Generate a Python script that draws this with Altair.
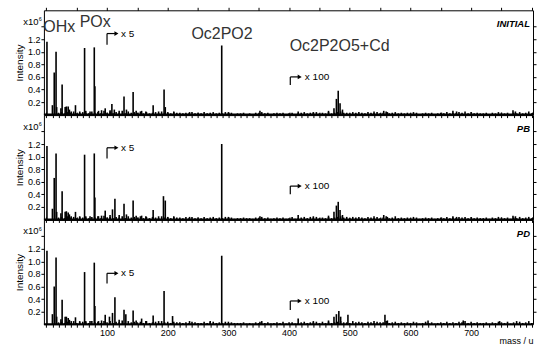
import altair as alt
import pandas as pd

FONT = "Liberation Sans"

# ---------------- data ----------------
panel_names = ["INITIAL", "PB", "PD"]

init_mass = [1, 10, 13, 16, 17, 24, 26, 31, 33, 36, 38, 41, 48, 55, 63, 65, 72, 79, 80, 86, 91, 97,
             105, 108, 112, 120, 128, 132, 143, 148, 157, 164, 176, 185, 194, 196, 210, 236, 289, 300,
             352, 415, 440, 465, 474, 478, 481, 484, 488, 540, 556, 562, 670, 676, 769, 773]
init_int = [1.16, 0.15, 0.67, 1.00, 0.12, 0.10, 0.48, 0.12, 0.13, 0.13, 0.08, 0.05, 0.15, 0.05, 1.06, 0.06,
            0.05, 1.07, 0.45, 0.06, 0.07, 0.10, 0.07, 0.17, 0.08, 0.06, 0.29, 0.08, 0.36, 0.06, 0.06, 0.05,
            0.15, 0.05, 0.40, 0.12, 0.05, 0.04, 1.10, 0.04, 0.06, 0.05, 0.04, 0.06, 0.10, 0.25, 0.38, 0.18,
            0.08, 0.05, 0.06, 0.04, 0.06, 0.05, 0.07, 0.05]

pb_mass = [1, 10, 13, 16, 17, 24, 26, 31, 33, 36, 38, 41, 48, 55, 63, 65, 72, 79, 80, 86, 91, 97,
           105, 109, 113, 120, 128, 132, 143, 148, 157, 164, 176, 185, 193, 196, 210, 236, 289, 300,
           352, 415, 440, 465, 474, 478, 481, 484, 488, 540, 556, 562, 670, 676, 769, 773]
pb_int = [1.17, 0.17, 0.66, 1.05, 0.12, 0.10, 0.45, 0.12, 0.13, 0.11, 0.08, 0.05, 0.12, 0.05, 1.03, 0.05,
          0.05, 1.05, 0.35, 0.05, 0.06, 0.14, 0.07, 0.16, 0.33, 0.07, 0.25, 0.08, 0.30, 0.06, 0.06, 0.05,
          0.15, 0.05, 0.37, 0.30, 0.05, 0.04, 1.20, 0.04, 0.05, 0.07, 0.05, 0.06, 0.12, 0.22, 0.28, 0.15,
          0.07, 0.05, 0.07, 0.04, 0.05, 0.04, 0.06, 0.05]

pd_mass = [1, 10, 13, 16, 17, 24, 26, 31, 33, 36, 38, 41, 48, 55, 63, 65, 72, 79, 80, 86, 91, 97,
           104, 109, 113, 120, 128, 131, 143, 148, 157, 164, 176, 185, 194, 208, 236, 270, 289, 300,
           352, 415, 440, 465, 474, 478, 482, 485, 497, 540, 558, 562, 629, 687, 747, 775]
pd_int = [1.17, 0.16, 0.60, 1.06, 0.12, 0.08, 0.39, 0.12, 0.12, 0.10, 0.07, 0.05, 0.11, 0.05, 0.83, 0.05,
          0.05, 0.98, 0.29, 0.05, 0.06, 0.15, 0.12, 0.18, 0.43, 0.07, 0.23, 0.16, 0.22, 0.06, 0.09, 0.05,
          0.14, 0.05, 0.53, 0.13, 0.05, 0.05, 1.09, 0.04, 0.04, 0.09, 0.05, 0.06, 0.12, 0.16, 0.21, 0.12,
          0.15, 0.05, 0.15, 0.06, 0.06, 0.06, 0.05, 0.05]

# noise floor: heights in 0.01 units, one digit per 5 mass units from m = 20
noise_start = 20
noise_step = 5
init_noise = ("3424352343" "2534263524" "3625343524" "2342534243" "3232423242" "3423242312"
              "2312132423" "1232312312" "3423342324" "2345332434" "3243242352" "3423232431"
              "2323123242" "3243524232" "2313243231" "3242352")
pb_noise = ("3425342433" "2435263424" "3525343524" "2432534243" "3242423242" "3423242312"
            "2322132423" "1232312412" "3424342324" "2345342434" "3243242352" "3523232431"
            "2323123242" "3243424232" "2313243231" "3242342")
pd_noise = ("3424252343" "2534253524" "3625343425" "2342534243" "3232432242" "3423242322"
            "2312132523" "1232413312" "3423342424" "2345332534" "3243243352" "3423232431"
            "2423123242" "3243524232" "2313243241" "3242352")

spectra_mass = [init_mass, pb_mass, pd_mass]
spectra_int = [init_int, pb_int, pd_int]
spectra_noise = [init_noise, pb_noise, pd_noise]

# peak-group labels (first panel)
label_text = ["OHx", "POx", "Oc2PO2", "Oc2P2O5+Cd"]
label_mass = [-5, 55, 239, 401]
label_int = [1.31, 1.39, 1.21, 1.01]

# gain-change markers
gain_text = ["x 5", "x 100"]
gain_mass = [100, 402]
gain_end = [113, 415]
gain_head = [115.5, 417.5]
gain_label = [123, 426]
gain_low = [[1.11, 0.47], [0.97, 0.40], [0.65, 0.225]]
gain_high = [[1.29, 0.60], [1.14, 0.53], [0.81, 0.37]]

x_ticks = list(range(0, 801, 10))
x_top_ticks = list(range(0, 801, 50))
y_ticks = [0.2, 0.4, 0.6, 0.8, 1.0, 1.2, 1.4]

X_DOMAIN = [-4, 802]
Y_DOMAIN = [0, 1.66]


def make_panel(idx):
    noise = spectra_noise[idx]
    nm = [noise_start + noise_step * k for k in range(len(noise))]
    nv = [int(c) / 100 for c in noise]
    df = pd.DataFrame({"mass": spectra_mass[idx] + nm, "value": spectra_int[idx] + nv})
    df["zero"] = 0.0

    xs = alt.Scale(domain=X_DOMAIN, nice=False, zero=False)
    ys = alt.Scale(domain=Y_DOMAIN, nice=False, zero=False)
    bottom = idx == 2

    xaxis_kw = dict(orient="bottom", values=x_ticks, tickSize=3, tickColor="black", tickWidth=1,
                    grid=False, domain=False, labels=bottom)
    if bottom:
        xaxis_kw.update(labelExpr="(datum.value % 100 == 0 && datum.value > 0 && datum.value < 800) ? datum.label : ''",
                        labelFont=FONT, labelFontSize=9, labelColor="black", labelPadding=1,
                        labelOverlap=False, labelFlush=False,
                        title="mass / u", titleFont=FONT, titleFontSize=9, titleFontWeight="normal",
                        titleColor="black", titleAnchor="end", titleAlign="right", titleBaseline="middle",
                        titleY=16)
        xaxis = alt.Axis(**xaxis_kw)
    else:
        xaxis = alt.Axis(title=None, **xaxis_kw)

    yaxis = alt.Axis(orient="left", values=y_ticks, tickSize=3, tickColor="black", tickWidth=1,
                     grid=False, domain=False, format=".1f",
                     labelExpr="datum.value > 1.3 ? '' : datum.label",
                     labelFont=FONT, labelFontSize=9, labelColor="black", labelPadding=1,
                     labelOverlap=False, labelFlush=False,
                     title="Intensity", titleFont=FONT, titleFontSize=10, titleFontWeight="normal",
                     titleColor="black", titlePadding=3)

    sticks = alt.Chart(df).mark_rule(color="black", strokeWidth=1.6).encode(
        x=alt.X("mass:Q", scale=xs, axis=xaxis),
        y=alt.Y("value:Q", scale=ys, axis=yaxis),
        y2="zero:Q",
    )

    one = pd.DataFrame({"mass": [0.0], "value": [0.0], "zero": [0.0]})
    frame_axes = alt.Chart(one).mark_point(opacity=0).encode(
        x=alt.X("mass:Q", scale=xs,
                axis=alt.Axis(orient="top", values=x_top_ticks, tickSize=3, tickColor="black",
                              labels=False, grid=False, domain=False, title=None)),
        y=alt.Y("value:Q", scale=ys,
                axis=alt.Axis(orient="right", values=y_ticks, tickSize=3, tickColor="black",
                              labels=False, grid=False, domain=False, title=None)),
    )

    baseline = alt.Chart(one).mark_rule(color="black", strokeWidth=2).encode(
        y=alt.Y("zero:Q", scale=ys, axis=None)
    )

    name_df = pd.DataFrame({"t": [panel_names[idx]], "mass": [797], "value": [1.39]})
    name = alt.Chart(name_df).mark_text(font=FONT, fontSize=9.5, fontWeight="bold", fontStyle="italic",
                                        align="right", baseline="alphabetic", color="black").encode(
        x=alt.X("mass:Q", scale=xs, axis=None), y=alt.Y("value:Q", scale=ys, axis=None), text="t:N")

    exp_df = pd.DataFrame({"t": ["x10"], "mass": [-13], "value": [1.43]})
    exp_main = alt.Chart(exp_df).mark_text(font=FONT, fontSize=9.5, align="right", baseline="alphabetic",
                                           color="black").encode(
        x=alt.X("mass:Q", scale=xs, axis=None), y=alt.Y("value:Q", scale=ys, axis=None), text="t:N")
    sup_df = pd.DataFrame({"t": ["6"], "mass": [-12.5], "value": [1.49]})
    exp_sup = alt.Chart(sup_df).mark_text(font=FONT, fontSize=5.5, align="left", baseline="alphabetic",
                                          color="black").encode(
        x=alt.X("mass:Q", scale=xs, axis=None), y=alt.Y("value:Q", scale=ys, axis=None), text="t:N")

    g = pd.DataFrame({
        "t": gain_text, "m0": gain_mass, "m1": gain_end, "mh": gain_head, "ml": gain_label,
        "lo": gain_low[idx], "hi": gain_high[idx],
    })
    g_vert = alt.Chart(g).mark_rule(color="black", strokeWidth=1.2).encode(
        x=alt.X("m0:Q", scale=xs, axis=None), y=alt.Y("lo:Q", scale=ys, axis=None), y2="hi:Q")
    g_hor = alt.Chart(g).mark_rule(color="black", strokeWidth=1.2).encode(
        x=alt.X("m0:Q", scale=xs, axis=None), x2="m1:Q", y=alt.Y("hi:Q", scale=ys, axis=None))
    g_head = alt.Chart(g).mark_point(shape="triangle-right", filled=True, color="black", size=22,
                                     opacity=1).encode(
        x=alt.X("mh:Q", scale=xs, axis=None), y=alt.Y("hi:Q", scale=ys, axis=None))
    g_text = alt.Chart(g).mark_text(font=FONT, fontSize=10, align="left", baseline="middle",
                                    color="black").encode(
        x=alt.X("ml:Q", scale=xs, axis=None), y=alt.Y("hi:Q", scale=ys, axis=None), text="t:N")

    layers = [sticks, frame_axes, baseline, name, exp_main, exp_sup, g_vert, g_hor, g_head, g_text]

    if idx == 0:
        ann = pd.DataFrame({"t": label_text, "mass": label_mass, "value": label_int})
        layers.append(alt.Chart(ann).mark_text(font=FONT, fontSize=16, align="left", baseline="alphabetic",
                                               color="#333333").encode(
            x=alt.X("mass:Q", scale=xs, axis=None), y=alt.Y("value:Q", scale=ys, axis=None), text="t:N"))

    return alt.layer(*layers).resolve_axis(x="independent", y="independent").properties(
        width=490, height=104.5)


chart = alt.vconcat(make_panel(0), make_panel(1), make_panel(2), spacing=0, bounds="flush").configure_view(
    stroke="black", strokeWidth=1).properties(
    padding={"left": 13, "top": 6, "right": 4, "bottom": 0}, background="white")

chart.save("out.html", embed_options={"renderer": "svg", "actions": False})
